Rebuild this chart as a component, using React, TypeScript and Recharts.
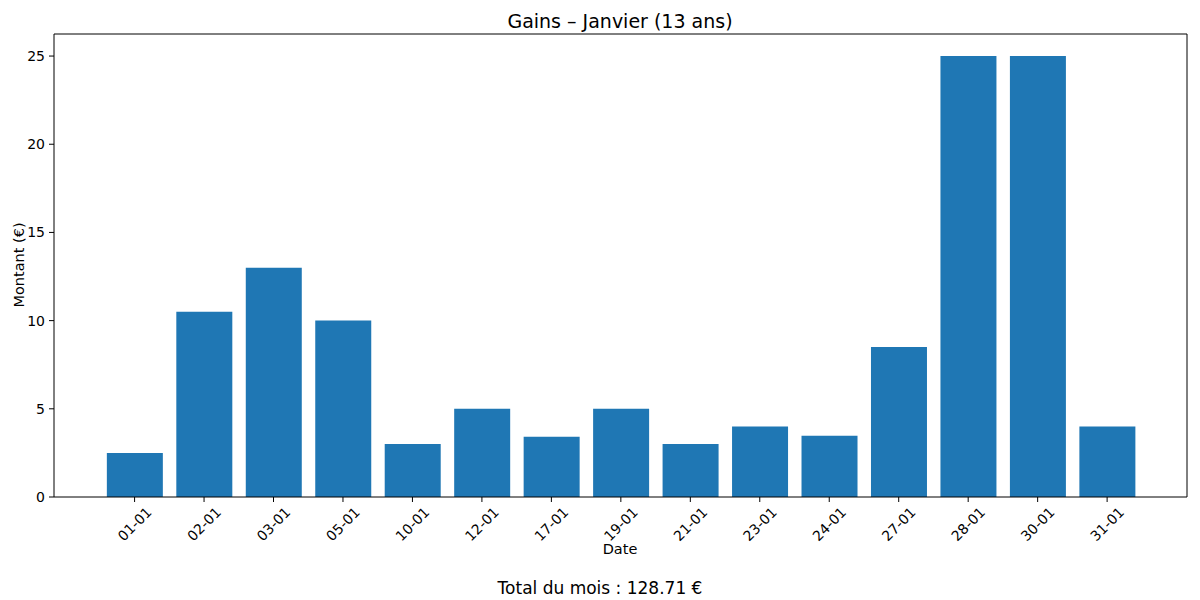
import { BarChart, Bar, XAxis, YAxis, ReferenceLine } from 'recharts';

const dates = ['01-01', '02-01', '03-01', '05-01', '10-01', '12-01', '17-01', '19-01', '21-01', '23-01', '24-01', '27-01', '28-01', '30-01', '31-01'];
const amounts = [2.5, 10.5, 13, 10, 3, 5, 3.42, 5, 3, 4, 3.47, 8.5, 25, 25, 4];
const yTicks = [0, 5, 10, 15, 20, 25];
const title = 'Gains – Janvier (13 ans)';
const total = 'Total du mois : 128.71 €';

const data = dates.map((d, i) => ({ i, date: d, amount: amounts[i] }));
const xTicks = data.map((d) => d.i);

const X_MIN = -1.16;
const X_MAX = 15.15;
const Y_MAX = 26.25;
const FONT = '"DejaVu Sans", sans-serif';

function DateTick({ x, y, payload }: any) {
  const cy = y + 18;
  return (
    <text
      x={x}
      y={cy}
      textAnchor="middle"
      dominantBaseline="central"
      transform={`rotate(-45 ${x} ${cy})`}
      fontSize={14}
      fill="#000"
    >
      {dates[payload.value]}
    </text>
  );
}

export default function App() {
  return (
    <div
      style={{
        position: 'absolute', left: 0, top: 0, width: 1200, height: 600,
        background: '#fff', fontFamily: FONT, color: '#000',
      }}
    >
      <BarChart
        width={1200}
        height={600}
        data={data}
        margin={{ top: 34, right: 13, bottom: 43, left: 14 }}
      >
        <XAxis
          dataKey="i"
          type="number"
          domain={[X_MIN, X_MAX]}
          ticks={xTicks}
          allowDataOverflow
          height={60}
          tickSize={5}
          tickMargin={4}
          tick={<DateTick />}
          axisLine={{ stroke: '#000', strokeWidth: 1 }}
          tickLine={{ stroke: '#000' }}
          interval={0}
        />
        <YAxis
          domain={[0, Y_MAX]}
          ticks={yTicks}
          allowDataOverflow
          width={40}
          tickSize={5}
          tickMargin={4}
          tick={{ fill: '#000', fontSize: 14 }}
          axisLine={{ stroke: '#000', strokeWidth: 1 }}
          tickLine={{ stroke: '#000' }}
        />
        <ReferenceLine y={Y_MAX} stroke="#000" strokeWidth={1} />
        <ReferenceLine x={X_MAX} stroke="#000" strokeWidth={1} />
        <Bar dataKey="amount" fill="#1f77b4" barSize={56} isAnimationActive={false} />
      </BarChart>

      <div style={{ position: 'absolute', left: 620, top: 549, transform: 'translate(-50%, -50%)', fontSize: 14.5, whiteSpace: 'nowrap' }}>
        Date
      </div>
      <div style={{ position: 'absolute', left: 19, top: 265, transform: 'translate(-50%, -50%) rotate(-90deg)', fontSize: 14.5, whiteSpace: 'nowrap' }}>
        Montant (€)
      </div>
      <div style={{ position: 'absolute', left: 620, top: 21, transform: 'translate(-50%, -50%)', fontSize: 19, whiteSpace: 'nowrap' }}>
        {title}
      </div>
      <div style={{ position: 'absolute', left: 600, top: 588, transform: 'translate(-50%, -50%)', fontSize: 17, whiteSpace: 'nowrap' }}>
        {total}
      </div>
    </div>
  );
}
